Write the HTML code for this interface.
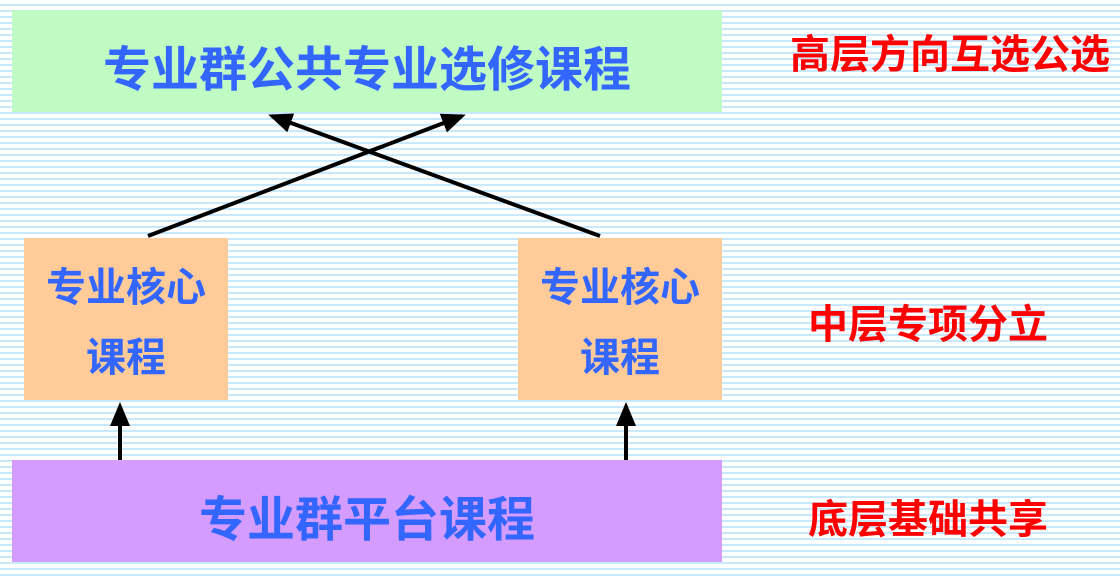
<!DOCTYPE html>
<html><head><meta charset="utf-8"><style>
body{margin:0;width:1120px;height:578px;overflow:hidden;position:relative;
background:repeating-linear-gradient(180deg,#fff 0px,#fff 4px,#c8e8fc 4px,#c8e8fc 6px);
font-family:"Liberation Sans","Noto Sans CJK SC",sans-serif;font-weight:bold}
.b{position:absolute;display:flex;align-items:center;justify-content:center;text-align:center;color:#3366ff}
.r{position:absolute;color:#ff0000;font-size:40px;line-height:40px;white-space:nowrap}
</style></head><body>
<div class="b" style="left:12px;top:14px;width:710px;height:102px;background:#c0fbc4;font-size:48px;top:10px;padding-top:8px;height:94px">专业群公共专业选修课程</div>
<div class="b" style="left:24px;top:238px;width:204px;height:162px;background:#ffcc99;font-size:40px;line-height:70px;padding-top:8px;height:154px">专业核心<br>课程</div>
<div class="b" style="left:518px;top:238px;width:204px;height:162px;background:#ffcc99;font-size:40px;line-height:70px;padding-top:8px;height:154px">专业核心<br>课程</div>
<div class="b" style="left:12px;top:460px;width:710px;height:102px;background:#d49cff;font-size:48px;padding-top:8px;height:94px">专业群平台课程</div>
<div class="r" style="left:790px;top:35px">高层方向互选公选</div>
<div class="r" style="left:808px;top:305px">中层专项分立</div>
<div class="r" style="left:808px;top:500px">底层基础共享</div>
<svg width="1120" height="578" style="position:absolute;left:0;top:0">
<defs><marker id="a" markerWidth="6" markerHeight="6" refX="5" refY="3" orient="auto" markerUnits="strokeWidth"><path d="M0,0.5 L6,3 L0,5.5z" fill="#000"/></marker></defs>
<g stroke="#000" stroke-width="4">
<line x1="148" y1="236" x2="462" y2="116" marker-end="url(#a)"/>
<line x1="600" y1="236" x2="272" y2="116" marker-end="url(#a)"/>
<line x1="120" y1="460" x2="120" y2="406" marker-end="url(#a)"/>
<line x1="626" y1="460" x2="626" y2="406" marker-end="url(#a)"/>
</g></svg>
</body></html>
